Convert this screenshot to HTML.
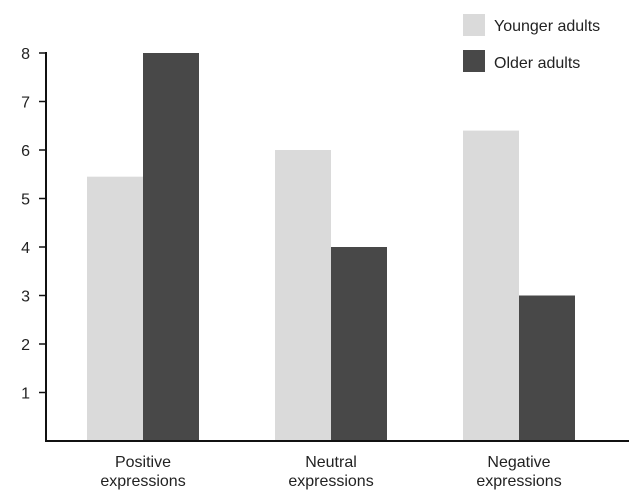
<!DOCTYPE html>
<html><head><meta charset="utf-8"><style>
html,body{margin:0;padding:0;background:#fff;}
svg{display:block;font-family:"Liberation Sans",Arial,sans-serif;}
</style></head><body>
<svg id="chart" width="632" height="492" viewBox="0 0 632 492">
  <g id="bars"></g>
  <g id="axes"></g>
  <g>
    <rect x="463" y="14" width="22" height="22" fill="#dadada"/>
    <text x="494" y="31" font-size="16" fill="#222">Younger adults</text>
    <rect x="463" y="50" width="22" height="22" fill="#484848"/>
    <text x="494" y="68" font-size="16" fill="#222">Older adults</text>
  </g>
</svg>
<script>
const categories = [["Positive","expressions"],["Neutral","expressions"],["Negative","expressions"]];
const younger = [5.45, 6, 6.4];
const older = [8, 4, 3];
const ticks = [1,2,3,4,5,6,7,8];

const NS = "http://www.w3.org/2000/svg";
const x0 = 46, yBase = 441, unit = 48.5;
const groupStart = 87, groupStep = 188, barW = 56;
function y(v){ return yBase - v*unit; }
function gx(i){ return groupStart + i*groupStep; }
function mk(tag, attrs, parent){ const e=document.createElementNS(NS,tag); for(const k in attrs) e.setAttribute(k,attrs[k]); parent.appendChild(e); return e; }

const bars = document.getElementById('bars');
categories.forEach((c,i)=>{
  let r = mk('rect',{x:gx(i),y:y(younger[i]),width:barW,height:yBase-y(younger[i]),fill:'#dadada'},bars);
  
  
  let r2 = mk('rect',{x:gx(i)+barW,y:y(older[i]),width:barW,height:yBase-y(older[i]),fill:'#484848'},bars);
  
  
  let t = mk('text',{x:gx(i)+barW,y:467,'font-size':16,'text-anchor':'middle',fill:'#222'},bars);
  
  
  mk('tspan',{x:gx(i)+barW,dy:0},t).textContent=c[0];
  mk('tspan',{x:gx(i)+barW,dy:19},t).textContent=c[1];
});

const axes = document.getElementById('axes');
let ya = mk('line',{x1:x0,y1:y(8)-1,x2:x0,y2:yBase+1,stroke:'#111','stroke-width':2},axes);


let xa = mk('line',{x1:x0-1,y1:yBase,x2:629,y2:yBase,stroke:'#111','stroke-width':2},axes);


ticks.forEach(v=>{
  let tk = mk('line',{x1:x0-7,y1:y(v),x2:x0,y2:y(v),stroke:'#111','stroke-width':1.5},axes);
  
  
  let tl = mk('text',{x:30,y:y(v)+6,'font-size':16,'text-anchor':'end',fill:'#222'},axes);
  
  
  tl.textContent = v;
});
</script>
</body></html>
